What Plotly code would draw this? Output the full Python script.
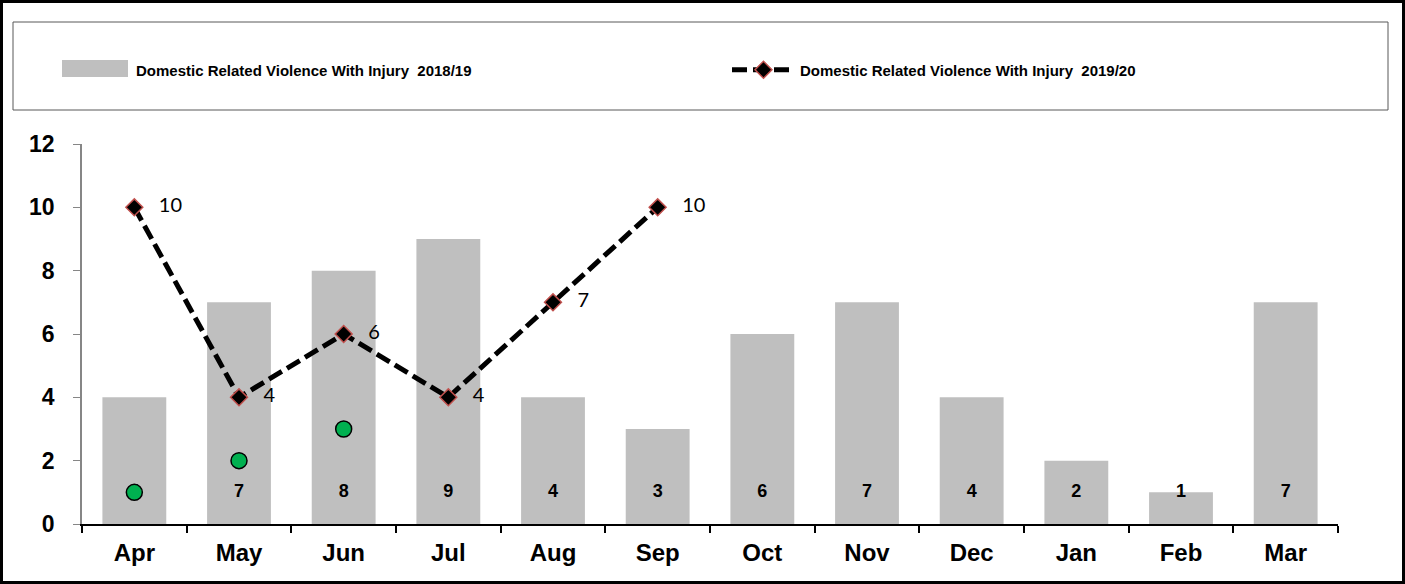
import plotly.graph_objects as go

# -------------------------
# DATA
# -------------------------
months = ["Apr", "May", "Jun", "Jul", "Aug", "Sep",
          "Oct", "Nov", "Dec", "Jan", "Feb", "Mar"]
prev_year = [4, 7, 8, 9, 4, 3, 6, 7, 4, 2, 1, 7]
curr_months = ["Apr", "May", "Jun", "Jul", "Aug", "Sep"]
curr_year = [10, 4, 6, 4, 7, 10]
dot_months = ["Apr", "May", "Jun"]
dot_values = [1, 2, 3]

name_prev = "Domestic Related Violence With Injury  2018/19"
name_curr = "Domestic Related Violence With Injury  2019/20"

W, H = 1405, 584
L, R, T, B = 82, 67, 144, 60
PW, PH = W - L - R, H - T - B


def px(x):
    return (x - L) / PW


def py(y):
    return (H - B - y) / PH


BOLD = "Liberation Sans, Arial, sans-serif"
GREY = "#BFBFBF"

fig = go.Figure()

# -------------------------
# BARS (2018/19)
# -------------------------
fig.add_trace(go.Bar(
    x=months,
    y=prev_year,
    name=name_prev,
    legend="legend",
    marker=dict(color=GREY, line=dict(width=0)),
    text=[f"{v}<br><span style='font-size:6px'>&nbsp;</span>" for v in prev_year],
    textposition="inside",
    insidetextanchor="start",
    textangle=0,
    constraintext="none",
    textfont=dict(family=BOLD, size=18, color="black", weight="bold"),
    hoverinfo="x+y",
))

# -------------------------
# LINE (2019/20)
# -------------------------
fig.add_trace(go.Scatter(
    x=curr_months,
    y=curr_year,
    name=name_curr,
    legend="legend2",
    mode="lines+markers+text",
    line=dict(color="black", width=5, dash="15px,6px"),
    marker=dict(symbol="diamond", size=13, color="black",
                line=dict(color="#C0504D", width=1.5)),
    text=[f"   {v}" for v in curr_year],
    textposition="middle right",
    textfont=dict(family="Lato, Open Sans, sans-serif", size=20, color="black"),
    cliponaxis=False,
))

# -------------------------
# GREEN DOTS
# -------------------------
fig.add_trace(go.Scatter(
    x=dot_months,
    y=dot_values,
    mode="markers",
    marker=dict(symbol="circle", size=16, color="#00B050",
                line=dict(color="black", width=1.5)),
    showlegend=False,
    cliponaxis=False,
))

# -------------------------
# FRAMES + WIDE BAR KEY
# -------------------------
fig.add_shape(type="rect", xref="paper", yref="paper",
              x0=px(1.5), x1=px(W - 1.5), y0=py(H - 1.5), y1=py(1.5),
              line=dict(color="black", width=3), layer="above")
fig.add_shape(type="rect", xref="paper", yref="paper",
              x0=px(13), x1=px(1388), y0=py(110), y1=py(22),
              line=dict(color="#595959", width=1), layer="below")
fig.add_shape(type="rect", xref="paper", yref="paper",
              x0=px(62), x1=px(128), y0=py(77), y1=py(60),
              fillcolor=GREY, line=dict(width=0), layer="above")

legend_font = dict(family=BOLD, size=15, color="black", weight="bold")

# -------------------------
# LAYOUT
# -------------------------
fig.update_layout(
    width=W,
    height=H,
    margin=dict(l=L, r=R, t=T, b=B),
    paper_bgcolor="white",
    plot_bgcolor="white",
    font=dict(family=BOLD, color="black"),
    bargap=0.39,
    showlegend=True,
    legend=dict(
        orientation="h",
        x=px(136 - 55), xanchor="left",
        y=py(70), yanchor="middle",
        font=legend_font,
        itemwidth=45,
        bgcolor="rgba(0,0,0,0)",
        borderwidth=0,
    ),
    legend2=dict(
        orientation="h",
        x=px(800 - 73), xanchor="left",
        y=py(70), yanchor="middle",
        font=legend_font,
        itemwidth=63,
        bgcolor="rgba(0,0,0,0)",
        borderwidth=0,
    ),
    xaxis=dict(
        type="category",
        categoryorder="array",
        categoryarray=months,
        showgrid=False,
        zeroline=False,
        showline=True,
        linecolor="black",
        linewidth=2,
        ticks="outside",
        tickson="boundaries",
        ticklen=7,
        tickwidth=1.5,
        tickcolor="black",
        ticklabelstandoff=6,
        tickfont=dict(family=BOLD, size=24, color="black", weight="bold"),
        range=[-0.5, 11.5],
    ),
    yaxis=dict(
        range=[0, 12],
        dtick=2,
        showgrid=False,
        zeroline=False,
        showline=True,
        linecolor="#868686",
        linewidth=1.5,
        ticks="outside",
        ticklen=7,
        tickcolor="#868686",
        ticklabelstandoff=14,
        tickfont=dict(family=BOLD, size=23, color="black", weight="bold"),
    ),
)

fig.write_html(
    "out.html",
    config={"displayModeBar": False},
    post_script="document.body.style.margin='0';document.body.style.overflow='hidden';",
)
